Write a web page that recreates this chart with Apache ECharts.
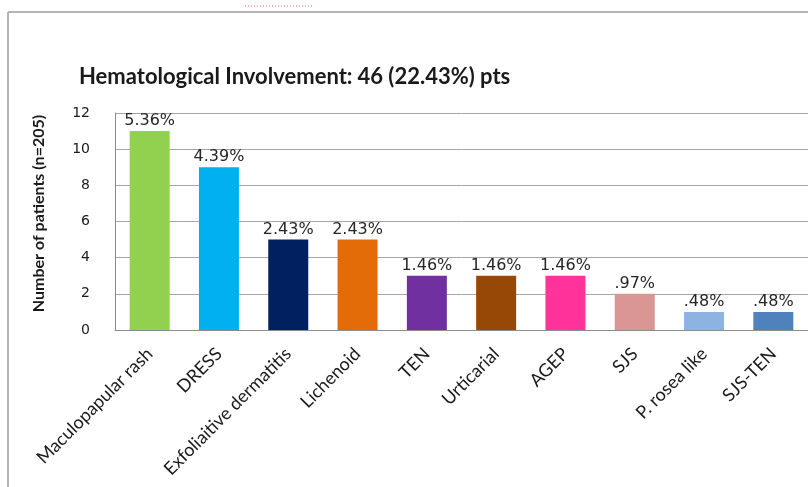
<!DOCTYPE html>
<html>
<head>
<meta charset="utf-8">
<script src="https://cdn.jsdelivr.net/npm/echarts@6/dist/echarts.min.js"></script>
<style>
  html, body { margin: 0; padding: 0; background: #ffffff; }
  #chart { width: 808px; height: 487px; }
</style>
</head>
<body>
<div id="chart"></div>
<script>
// Reaction types with hematological involvement
const categories = ['Maculopapular rash', 'DRESS', 'Exfoliaitive dermatitis', 'Lichenoid', 'TEN', 'Urticarial', 'AGEP', 'SJS', 'P. rosea like', 'SJS-TEN'];
const patients = [11, 9, 5, 5, 3, 3, 3, 2, 1, 1];
const percentLabels = ['5.36%', '4.39%', '2.43%', '2.43%', '1.46%', '1.46%', '1.46%', '.97%', '.48%', '.48%'];
const barColors = ['#92d050', '#00b0f0', '#002060', '#e36c09', '#7030a0', '#974706', '#ff3399', '#d99694', '#8db3e2', '#4f81bd'];
const yTicks = [0, 2, 4, 6, 8, 10, 12];

const chart = echarts.init(document.getElementById('chart'));

const option = {
  backgroundColor: '#ffffff',
  animation: false,
  title: {
    left: 74,
    top: 61,
    text: '{b|Hematological Involvement:} {n|46 (22.43%) pts}',
    textStyle: {
      rich: {
        b: { fontFamily: 'Lato', fontWeight: 'bold', fontSize: 22, color: '#1a1a1a' },
        n: { fontFamily: 'Lato', fontSize: 22, color: '#1a1a1a' }
      }
    }
  },
  graphic: [
    { type: 'line', shape: { x1: 8, y1: 12, x2: 808, y2: 12 }, style: { stroke: '#b4b4b4', lineWidth: 2 } },
    { type: 'line', shape: { x1: 8, y1: 12, x2: 8, y2: 487 }, style: { stroke: '#b4b4b4', lineWidth: 2 } },
    { type: 'line', shape: { x1: 245, y1: 6, x2: 312, y2: 6 }, style: { stroke: '#e8745a', lineWidth: 1, lineDash: [1, 2] } }
  ],
  grid: { left: 115, top: 113, width: 695, bottom: 157 },
  xAxis: {
    type: 'category',
    data: categories,
    axisLine: { show: true, lineStyle: { color: '#8c8c8c', width: 1 } },
    axisTick: { show: false },
    axisLabel: {
      interval: 0,
      rotate: 45,
      margin: 21,
      fontFamily: 'Lato',
      fontSize: 18,
      color: '#1a1a1a'
    }
  },
  yAxis: {
    type: 'value',
    min: 0,
    max: 12,
    interval: 2,
    name: 'Number of patients (n=205)',
    nameLocation: 'middle',
    nameGap: 68,
    nameTextStyle: { fontFamily: 'Lato', fontWeight: 'bold', fontSize: 16, color: '#1a1a1a', padding: [0, 0, 0, 16] },
    axisLine: { show: true, lineStyle: { color: '#8c8c8c', width: 1 } },
    axisTick: { show: false },
    splitLine: { show: true, lineStyle: { color: '#a6a6a6', width: 1 } },
    axisLabel: {
      margin: 25,
      fontFamily: 'DejaVu Sans',
      fontSize: 14,
      color: '#1a1a1a',
      formatter: function (v) { return yTicks.indexOf(v) >= 0 ? String(v) : ''; }
    }
  },
  series: [{
    type: 'bar',
    barWidth: 40,
    data: patients.map(function (v, i) {
      return { value: v, itemStyle: { color: barColors[i] } };
    }),
    label: {
      show: true,
      position: 'top',
      distance: 2,
      fontFamily: 'DejaVu Sans',
      fontSize: 16,
      color: '#262626',
      formatter: function (p) { return percentLabels[p.dataIndex]; }
    }
  }]
};

chart.setOption(option);
</script>
</body>
</html>
